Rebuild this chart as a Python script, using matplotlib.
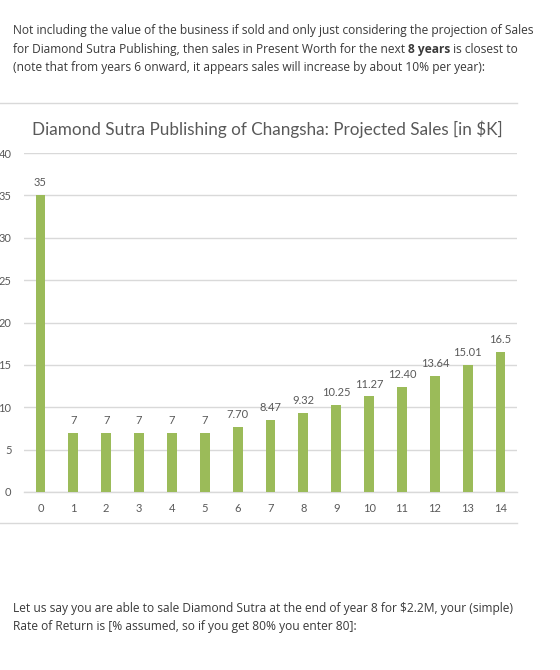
import matplotlib
matplotlib.use("Agg")
import matplotlib.pyplot as plt
from matplotlib.lines import Line2D

years = list(range(15))
sales = [35, 7, 7, 7, 7, 7, 7.70, 8.47, 9.32, 10.25, 11.27, 12.40, 13.64, 15.01, 16.5]
sales_labels = ["35", "7", "7", "7", "7", "7", "7.70", "8.47", "9.32", "10.25",
                "11.27", "12.40", "13.64", "15.01", "16.5"]
y_ticks = [0, 5, 10, 15, 20, 25, 30, 35, 40]
title = "Diamond Sutra Publishing of Changsha: Projected Sales [in $K]"
intro_lines = [
    [("Not including the value of the business if sold and only just considering the projection of Sales", "normal")],
    [("for Diamond Sutra Publishing, then sales in Present Worth for the next ", "normal"),
     ("8 years", "bold"), (" is closest to", "normal")],
    [("(note that from years 6 onward, it appears sales will increase by about 10% per year):", "normal")],
]
outro_lines = [
    [("Let us say you are able to sale Diamond Sutra at the end of year 8 for $2.2M, your (simple)", "normal")],
    [("Rate of Return is [% assumed, so if you get 80% you enter 80]:", "normal")],
]

W, H = 560, 670
fig = plt.figure(figsize=(W / 100, H / 100), dpi=100)
fig.patch.set_facecolor("white")
renderer = fig.canvas.get_renderer()

PFONT = "Open Sans"
TXT = "#3a3a3a"


def fx(x):
    return x / W


def fy(y):
    return 1 - y / H


def text_width(s, size, weight):
    t = fig.text(0, 0, s, fontsize=size, fontfamily=PFONT, fontweight=weight)
    w = t.get_window_extent(renderer).width
    t.remove()
    return w


def draw_line(parts, x0, yc, size):
    x = x0
    for s, wt in parts:
        fig.text(fx(x), fy(yc), s, fontsize=size, fontfamily=PFONT, fontweight=wt,
                 color=TXT, ha="left", va="center_baseline")
        x += text_width(s, size, wt)


# common paragraph size: fit first line to its width in the reference
base = 10.0
psize = base * 527 / sum(text_width(s, base, wt) for s, wt in intro_lines[0])

intro_y = [29, 48, 66]
for parts, yc in zip(intro_lines, intro_y):
    draw_line(parts, 13, yc, psize)

outro_y = [607, 625]
for parts, yc in zip(outro_lines, outro_y):
    draw_line(parts, 13, yc, psize)

# separators
for yy in (103, 523):
    fig.add_artist(Line2D([0, fx(517)], [fy(yy), fy(yy)], color="#d9d9d9", lw=1.0))

# chart
ax = fig.add_axes([fx(24), fy(492), fx(517) - fx(24), (492 - 153) / H])
ax.bar(years, sales, width=0.3, color="#9bbb59", zorder=3)
ax.set_xlim(-0.5, 14.5)
ax.set_ylim(0, 40)
ax.set_yticks(y_ticks)
ax.set_xticks(years)
ax.grid(axis="y", color="#d9d9d9", lw=1.0, zorder=0)
for s in ("top", "right", "left"):
    ax.spines[s].set_visible(False)
ax.spines["bottom"].set_color("#d9d9d9")
ax.spines["bottom"].set_linewidth(1.0)
ax.tick_params(axis="both", length=0, colors="#595959", labelsize=8)
ax.tick_params(axis="y", pad=9)
ax.tick_params(axis="x", pad=8)
for lab in ax.get_xticklabels() + ax.get_yticklabels():
    lab.set_fontfamily("Lato")
for x, v, s in zip(years, sales, sales_labels):
    ax.annotate(s, (x, v), xytext=(0, 5), textcoords="offset points", ha="center",
                va="bottom", fontsize=8, color="#595959", fontfamily="Lato")

fig.text(fx(267), fy(129), title, ha="center", va="center", fontsize=12.3,
         color="#595959", fontfamily="Lato")

fig.savefig("out.png", dpi=100, facecolor="white")
